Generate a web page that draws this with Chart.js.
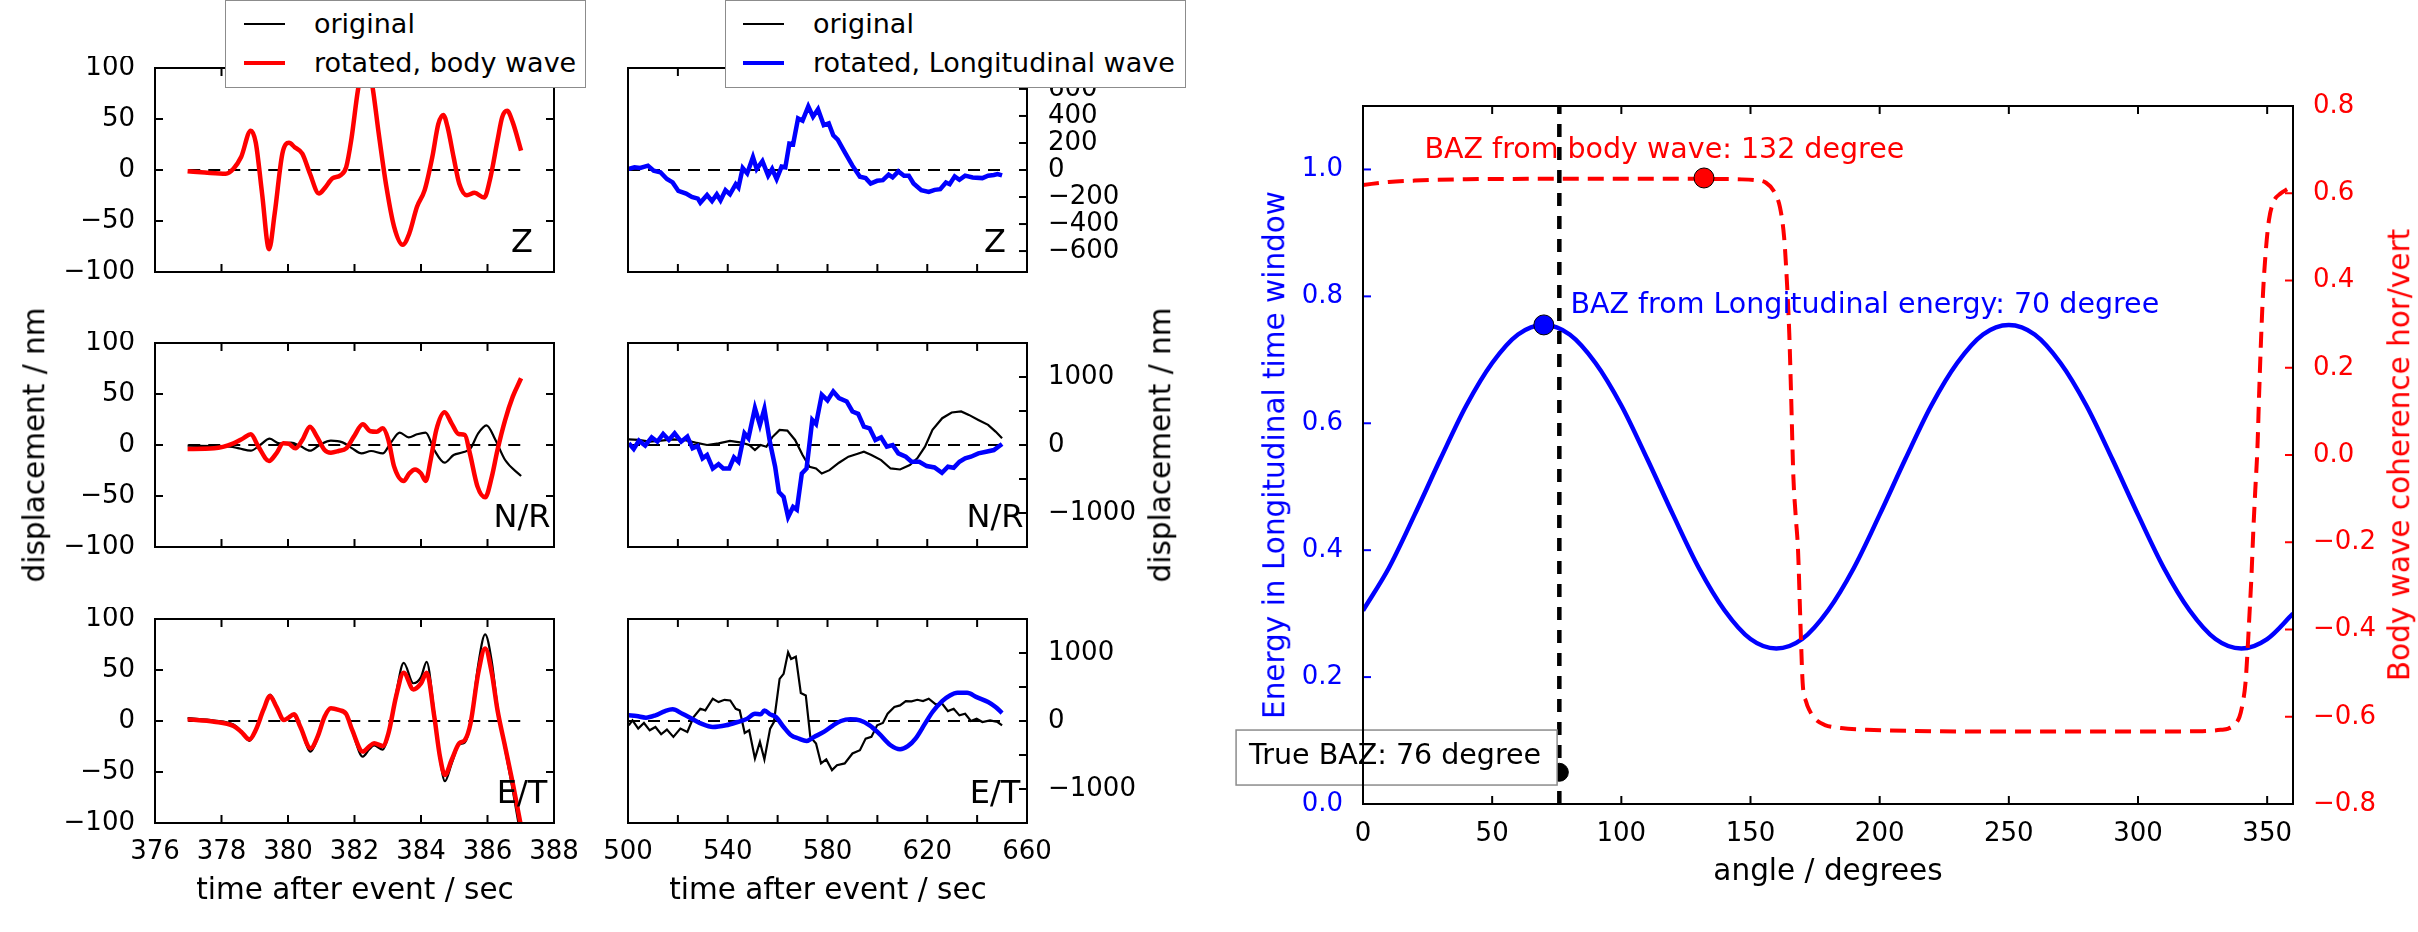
<!DOCTYPE html>
<html>
<head>
<meta charset="utf-8">
<script src="https://cdn.jsdelivr.net/npm/chart.js@4.4.0/dist/chart.umd.min.js"></script>
<style>
body { margin: 0; background: #fff; }
#fig { position: relative; width: 2418px; height: 932px; font-family: "DejaVu Sans"; overflow: hidden; }
canvas { position: absolute; }
.t { position: absolute; font-size: 29.5px; line-height: 1; white-space: nowrap; transform: translate(-50%, -50%); }
.rot { transform: translate(-50%, -50%) rotate(-90deg); }
.legend { position: absolute; box-sizing: border-box; background: #fff; border: 1.5px solid #8c8c8c; }
.lline { position: absolute; width: 41px; height: 0; }
.ltext { position: absolute; font-size: 27px; line-height: 1; white-space: nowrap; transform: translateY(-50%); }
</style>
</head>
<body>
<div id="fig">
  <canvas id="lz" width="546" height="228" style="left:40px;top:56px"></canvas>
  <canvas id="ln" width="546" height="228" style="left:40px;top:331px"></canvas>
  <canvas id="le" width="546" height="266" style="left:40px;top:607px"></canvas>
  <canvas id="mz" width="550" height="228" style="left:600px;top:56px"></canvas>
  <canvas id="mn" width="550" height="228" style="left:600px;top:331px"></canvas>
  <canvas id="me" width="550" height="266" style="left:600px;top:607px"></canvas>
  <canvas id="baz" width="1180" height="774" style="left:1220px;top:80px"></canvas>

  <div class="t rot" style="left:35px;top:445px">displacement / nm</div>
  <div class="t rot" style="left:1161px;top:445px">displacement / nm</div>
  <div class="t" style="left:355px;top:890px">time after event / sec</div>
  <div class="t" style="left:828px;top:890px">time after event / sec</div>
  <div class="t" style="left:1828px;top:871px">angle / degrees</div>
  <div class="t rot" style="left:1275px;top:455px;color:blue">Energy in Longitudinal time window</div>
  <div class="t rot" style="left:2400px;top:455px;color:red">Body wave coherence hor/vert</div>

  <div class="legend" style="left:225px;top:0px;width:361px;height:88px">
    <div class="lline" style="left:18px;top:22px;border-top:2px solid #000"></div>
    <div class="ltext" style="left:88px;top:22px">original</div>
    <div class="lline" style="left:18px;top:60px;border-top:4px solid red"></div>
    <div class="ltext" style="left:88px;top:61px">rotated, body wave</div>
  </div>
  <div class="legend" style="left:725px;top:0px;width:461px;height:88px">
    <div class="lline" style="left:17px;top:22px;border-top:2px solid #000"></div>
    <div class="ltext" style="left:87px;top:22px">original</div>
    <div class="lline" style="left:17px;top:60px;border-top:4px solid blue"></div>
    <div class="ltext" style="left:87px;top:61px">rotated, Longitudinal wave</div>
  </div>
</div>

<script>
// ticks
var leftTimeTicks = [376, 378, 380, 382, 384, 386, 388];
var leftDispTicks = [-100, -50, 0, 50, 100];
var midTimeTicks = [500, 520, 540, 560, 580, 600, 620, 640, 660];
var midZTicks = [-600, -400, -200, 0, 200, 400, 600];
var midHTicks = [-1000, -500, 0, 500, 1000];
var angleTicks = [0, 50, 100, 150, 200, 250, 300, 350];
var energyTicks = [0, 0.2, 0.4, 0.6, 0.8, 1.0];
var cohTicks = [-0.8, -0.6, -0.4, -0.2, 0, 0.2, 0.4, 0.6, 0.8];

var zeroLeft = [377, 387];
var zeroMid = [500, 650];

// left column, body wave rotation (nm)
var zT = [376.98, 377.5, 378.13, 378.36, 378.59, 378.88, 379.03, 379.22, 379.43, 379.6, 379.83, 380.03, 380.2, 380.43, 380.66, 380.93, 381.1, 381.33, 381.58, 381.75, 381.9, 382.1, 382.22, 382.33, 382.45, 382.56, 382.73, 382.96, 383.19, 383.45, 383.65, 383.88, 384.11, 384.34, 384.52, 384.67, 384.8, 384.98, 385.15, 385.38, 385.61, 385.9, 386.07, 386.3, 386.44, 386.59, 386.76, 387.01];
var zBody = [-1.3, -2.5, -3.6, 1.3, 12.7, 38.6, 27, -23, -77.6, -42.5, 16, 26.6, 22.4, 16, -3.6, -23, -18, -8.4, -5.2, 2.9, 28.9, 77.6, 98, 105, 98, 77.6, 35.4, -16.6, -55.5, -73.4, -62, -36, -19.8, 12.7, 45, 54, 42, 12.7, -13.3, -24.7, -22.4, -27, -10, 28.9, 51.6, 58, 46.7, 19];

var nrBodyT = [376.98, 377.78, 378.36, 378.65, 378.88, 379.11, 379.43, 379.65, 379.86, 380.03, 380.22, 380.43, 380.66, 380.87, 381.1, 381.29, 381.52, 381.75, 381.98, 382.25, 382.48, 382.67, 382.85, 383.02, 383.19, 383.48, 383.65, 383.82, 384.0, 384.14, 384.29, 384.46, 384.71, 384.92, 385.13, 385.32, 385.47, 385.7, 385.93, 386.13, 386.3, 386.53, 386.76, 387.01];
var nrBody = [-3.9, -3.3, 1.6, 6.5, 10.5, -1.6, -15.7, -8.2, 1.6, 1, -3.3, 4.9, 18, 8.2, -4.9, -7.5, -5.9, -3.3, 8.2, 20.3, 13.5, 13, 16.3, 4.9, -21, -35.3, -27.8, -23.9, -27.8, -35.3, -14.7, 14.7, 32, 21.2, 10.8, 9.8, -8.2, -40.8, -51.3, -31, -4.9, 24.5, 47.4, 65.4];
var nrOrigT = [376.98, 378.25, 378.53, 378.88, 379.16, 379.45, 379.74, 380.09, 380.37, 380.66, 380.95, 381.29, 381.64, 381.93, 382.21, 382.5, 382.85, 383.08, 383.36, 383.63, 383.88, 384.14, 384.4, 384.71, 384.98, 385.26, 385.49, 385.72, 385.97, 386.24, 386.53, 387.01];
var nrOrig = [-0.7, -1.6, -3.3, -5.6, 0, 6.2, 1.6, 2.3, -1, -5.6, 0, 4.2, 2.6, -3.3, -8.2, -5.9, -8.2, 1.6, 12.1, 7.5, 10.5, 12.1, -4.9, -17.3, -9.8, -7.2, -3.3, 11.4, 19.3, 4.9, -14.7, -30.4];

var etT = [376.98, 377.78, 378.36, 378.59, 378.84, 379.03, 379.26, 379.46, 379.65, 379.88, 379.99, 380.18, 380.37, 380.68, 380.89, 381.1, 381.29, 381.52, 381.75, 381.93, 382.25, 382.44, 382.59, 382.85, 383.02, 383.25, 383.48, 383.77, 384.0, 384.17, 384.4, 384.57, 384.72, 384.92, 385.15, 385.32, 385.49, 385.72, 385.93, 386.13, 386.3, 386.53, 386.76, 387.01];
var etBody = [1.6, -0.7, -4.9, -10.5, -18, -8.8, 10.8, 24.5, 14, 1, 2.6, 6.5, -5.6, -26.8, -15.4, 4.2, 12.4, 10.8, 6.9, -8.8, -30, -25, -21.9, -24.5, -12.1, 23.9, 47.4, 31, 36.9, 47.4, 4.2, -35, -53, -38.2, -21.9, -18.6, -2.3, 46.7, 71.2, 46.7, 10.8, -25.2, -61.1, -103.6];
var etOrig = [2.9, 0.5, -3.5, -10, -19.5, -9.5, 11, 26, 15, 0, 2, 6, -6, -30, -17, 4, 12.5, 10.5, 6, -10, -35, -28, -24, -28, -14, 27, 57, 37, 43, 58, 8, -37, -59, -42, -23, -21, -2, 55, 85, 58, 14, -28, -68, -115];

// middle column, longitudinal rotation (nm)
var mzT = [500, 502.6, 504.9, 508, 510.3, 513, 515.6, 517.9, 520.2, 523.3, 525.6, 528, 529, 531.7, 533.7, 535.6, 537.1, 539.1, 540.9, 543.2, 544.3, 546, 547.8, 550.1, 551.6, 553.9, 556.2, 557.8, 559.6, 561.6, 563.1, 564.7, 566.2, 568.2, 570, 572.3, 574.2, 576.2, 578.5, 580.5, 582.3, 584.1, 586.9, 590, 593, 595.3, 597.3, 599.9, 602.2, 604.5, 606.1, 608.4, 610.7, 612.6, 614.5, 617.6, 620.6, 623, 625.2, 627.5, 629, 631, 632.9, 635.2, 638.2, 642.1, 644.4, 646.7, 648.2, 650];
var mzLong = [7.5, 20, 15, 32, -5, -17, -67, -92, -155, -175, -200, -212, -242, -185, -230, -180, -225, -150, -180, -105, -130, 15, -25, 95, 7.5, 65, -42, 7.5, -67, 25, 20, 195, 190, 382, 365, 470, 395, 450, 332, 345, 257, 225, 132, 32, -50, -60, -100, -80, -75, -35, -55, -10, -42, -42, -100, -150, -162, -147, -142, -92, -105, -47, -72, -42, -55, -60, -42, -37, -30, -40];

var mnLongT = [500.3, 502.3, 504.4, 506.9, 509.5, 511.8, 514.1, 516.4, 518.7, 521.3, 523.8, 525.9, 527.9, 529.9, 531.7, 534, 536.3, 538.2, 540.6, 542.5, 544.3, 546.7, 548.3, 550.9, 552.9, 554.7, 557, 559, 560.5, 562.4, 564.2, 566.2, 567.7, 569.7, 571.6, 573.9, 575.4, 577.7, 580, 582.3, 584.6, 587.7, 590, 592.3, 594.6, 596.9, 599.2, 601.5, 603.8, 606.1, 608.4, 611.4, 613.7, 616.8, 619.8, 622.9, 625.9, 628.3, 630.6, 632.9, 635.2, 637.5, 640.5, 643.6, 646.7, 650];
var mnLong = [25, -59, 64, -10, 113, 49, 163, 74, 172, 49, 123, -49, -15, -197, -148, -345, -281, -345, -345, -182, -246, 172, 99, 542, 296, 532, 25, -320, -690, -764, -1059, -911, -951, -419, -345, 369, 310, 739, 655, 788, 690, 640, 493, 458, 271, 246, 74, 113, -25, 0, -123, -172, -246, -246, -310, -330, -409, -320, -335, -246, -197, -172, -123, -99, -74, 15];
var mnOrigT = [500.3, 504.1, 508.7, 513.3, 517.9, 522.5, 527.1, 531.7, 536.3, 540.9, 545.5, 548.6, 550.9, 553.2, 555.5, 557.8, 560.8, 563.9, 567, 570, 572.8, 575.4, 577.7, 580.8, 584.6, 588.4, 591.8, 594.6, 597.6, 601.5, 605.3, 609.1, 613, 616, 619.1, 622.1, 626, 629.8, 633.6, 636.7, 640.5, 644.4, 647.4, 650];
var mnOrig = [84, 74, 49, 64, 84, 74, 34, 0, 25, 59, 34, 0, -74, 0, -25, 113, 222, 212, 74, -148, -320, -345, -419, -370, -261, -172, -133, -99, -148, -222, -345, -360, -296, -197, -25, 222, 394, 478, 493, 443, 369, 296, 197, 99];

var meLongT = [500.3, 503.4, 507.2, 511, 514.9, 517.9, 521.8, 525.6, 529.4, 534, 539.3, 543.9, 547.8, 550.9, 553.2, 554.7, 557, 559.3, 562.4, 565.4, 568.5, 571.6, 574.6, 578.5, 582.3, 585.4, 589.2, 593, 596.9, 600.7, 605.3, 609.1, 612.2, 615.3, 619.1, 622.1, 626, 629.1, 632.1, 636, 639.8, 644.4, 647.4, 650];
var meLong = [83, 73, 49, 83, 146, 171, 107, 34, -39, -88, -63, -15, 34, 107, 98, 156, 98, 59, -88, -210, -259, -293, -234, -161, -63, 0, 24, 10, -63, -185, -356, -415, -371, -259, -39, 132, 293, 376, 415, 415, 351, 278, 205, 117];
var meOrigT = [500.3, 501.8, 504.1, 506.4, 508.7, 511, 513.3, 515.6, 518.2, 521, 523.8, 526.3, 529, 531, 534, 536.3, 538.7, 541, 543.2, 544.8, 546.8, 548.6, 550.9, 552.9, 554.7, 557, 558.5, 560.8, 562.4, 564.2, 565.4, 567.3, 569.3, 571.3, 573.1, 575.4, 577.4, 579.5, 581.8, 583.8, 586.9, 590, 593, 595.3, 597.6, 599.9, 602.2, 604.1, 606.8, 609.1, 611.4, 613.7, 616, 618.3, 620.6, 623.4, 626, 628.3, 630.6, 632.9, 635.2, 637.5, 639.8, 642.1, 645.2, 648.2, 650];
var meOrig = [-63, 10, -112, -29, -137, -88, -195, -127, -234, -112, -161, 59, 180, 156, 327, 278, 312, 302, 180, 156, -176, -137, -551, -307, -566, -112, -15, 620, 693, 1010, 912, 946, 410, 376, -234, -332, -624, -566, -722, -649, -624, -478, -429, -259, -234, -63, -29, 107, 205, 229, 293, 288, 312, 293, 327, 244, 254, 146, 180, 83, 107, 0, 34, -15, 10, -15, -63];

// right panel
var angles = [0, 10, 20, 30, 40, 50, 60, 70, 80, 90, 100, 110, 120, 130, 140, 150, 160, 170, 180, 190, 200, 210, 220, 230, 240, 250, 260, 270, 280, 290, 300, 310, 320, 330, 340, 350, 360];
var energy = [0.305, 0.372, 0.456, 0.544, 0.628, 0.695, 0.740, 0.755, 0.740, 0.695, 0.628, 0.544, 0.456, 0.372, 0.305, 0.260, 0.245, 0.260, 0.305, 0.372, 0.456, 0.544, 0.628, 0.695, 0.740, 0.755, 0.740, 0.695, 0.628, 0.544, 0.456, 0.372, 0.305, 0.260, 0.245, 0.260, 0.300];
var cohAngle = [0, 10, 20, 40, 70, 100, 130, 145, 152, 156, 159, 161.4, 163, 164, 165, 165.7, 166.6, 167.5, 168.4, 169.3, 170.2, 171.5, 172.8, 175, 178.8, 185, 195, 220, 260, 300, 325, 332, 335, 337, 339.3, 340.5, 341.6, 342.4, 343.1, 343.9, 344.6, 345.4, 346.2, 346.9, 347.6, 348.4, 349.5, 350.7, 352.3, 355.3, 358];
var coherence = [0.619, 0.626, 0.629, 0.632, 0.633, 0.633, 0.633, 0.632, 0.630, 0.624, 0.605, 0.568, 0.50, 0.408, 0.28, 0.142, -0.05, -0.14, -0.218, -0.38, -0.523, -0.565, -0.585, -0.605, -0.619, -0.626, -0.630, -0.633, -0.634, -0.634, -0.633, -0.630, -0.627, -0.620, -0.600, -0.570, -0.523, -0.45, -0.371, -0.28, -0.179, -0.08, 0.011, 0.142, 0.26, 0.371, 0.47, 0.539, 0.578, 0.600, 0.61];

var bodyBaz = 132, bodyCoh = 0.635;
var longBaz = 70, longEnergy = 0.755;
var trueBaz = 76, trueMark = 0.05;
var energyMin = 0, energyMax = 1.1;

var notes = [
    { text: 'BAZ from body wave: 132 degree', x: 23.8, y: 1.029, color: 'red' },
    { text: 'BAZ from Longitudinal energy: 70 degree', x: 80.3, y: 0.786, color: 'blue' },
    { text: 'True BAZ: 76 degree', x: -44.1, y: 0.074, color: '#000', box: true }
];

Chart.defaults.font.family = 'DejaVu Sans';
Chart.defaults.color = '#000';
var tickFont = { family: 'DejaVu Sans', size: 26 };

function pts(xs, ys) {
    return xs.map(function (x, i) { return { x: x, y: ys[i] }; });
}
function minus(v) {
    return v < 0 ? '\u2212' + Math.abs(v) : '' + v;
}
function fmt1(v) {
    var s = Math.abs(v).toFixed(1);
    return v < -1e-9 ? '\u2212' + s : s;
}
function setTicks(list) {
    return function (scale) { scale.ticks = list.map(function (v) { return { value: v }; }); };
}
// fixed axis box size, and no extra room for labels hanging over the ends
function fixSize(size) {
    return function (s) {
        if (s.isHorizontal()) { s.height = size; } else { s.width = size; }
        s.paddingTop = 0;
        s.paddingBottom = 0;
        s.paddingLeft = 0;
        s.paddingRight = 0;
    };
}
function trace(xs, ys, color, width, smooth) {
    return {
        data: pts(xs, ys), borderColor: color, borderWidth: width, pointRadius: 0,
        tension: 0, cubicInterpolationMode: smooth ? 'monotone' : 'default', fill: false
    };
}
function zeroLine(xs) {
    return { data: pts(xs, [0, 0]), borderColor: '#000', borderWidth: 2, borderDash: [12, 8], pointRadius: 0 };
}

// frame, inward ticks, panel tag and text notes
function makeFrame(cfg) {
    return {
        id: 'frame',
        afterDatasetsDraw: function (chart) {
            var ctx = chart.ctx;
            var a = chart.chartArea;
            ctx.save();
            (cfg.notes || []).forEach(function (n) {
                var px = chart.scales.x.getPixelForValue(n.x);
                var py = chart.scales.yE.getPixelForValue(n.y);
                ctx.font = '28.5px "DejaVu Sans"';
                ctx.textAlign = 'left';
                ctx.textBaseline = 'middle';
                if (n.box) {
                    var w = ctx.measureText(n.text).width;
                    ctx.fillStyle = '#fff';
                    ctx.strokeStyle = '#8c8c8c';
                    ctx.lineWidth = 1.5;
                    ctx.fillRect(px - 13, py - 27, w + 29, 55);
                    ctx.strokeRect(px - 13, py - 27, w + 29, 55);
                }
                ctx.fillStyle = n.color;
                ctx.fillText(n.text, px, py);
            });
            if (cfg.tag) {
                ctx.font = '32px "DejaVu Sans"';
                ctx.fillStyle = '#000';
                ctx.textAlign = 'center';
                ctx.textBaseline = 'alphabetic';
                ctx.fillText(cfg.tag, a.left + 0.92 * (a.right - a.left), a.bottom - 0.1 * (a.bottom - a.top));
            }
            ctx.lineWidth = 2;
            cfg.sides.forEach(function (s) {
                var sc = chart.scales[s.scale];
                ctx.strokeStyle = s.color || '#000';
                sc.ticks.forEach(function (t) {
                    var p = sc.getPixelForValue(t.value);
                    ctx.beginPath();
                    if (s.side === 'bottom') { ctx.moveTo(p, a.bottom); ctx.lineTo(p, a.bottom - 8); }
                    else if (s.side === 'top') { ctx.moveTo(p, a.top); ctx.lineTo(p, a.top + 8); }
                    else if (s.side === 'left') { ctx.moveTo(a.left, p); ctx.lineTo(a.left + 8, p); }
                    else { ctx.moveTo(a.right, p); ctx.lineTo(a.right - 8, p); }
                    ctx.stroke();
                });
            });
            ctx.strokeStyle = '#000';
            ctx.strokeRect(a.left, a.top, a.right - a.left, a.bottom - a.top);
            ctx.restore();
        }
    };
}

function seisPanel(id, datasets, p) {
    var onLeft = p.yPos === 'left';
    return new Chart(document.getElementById(id), {
        type: 'line',
        data: { datasets: datasets },
        options: {
            responsive: false,
            animation: false,
            events: [],
            layout: { padding: onLeft ? { top: 12, right: 32 } : { top: 12, left: 28 } },
            plugins: { legend: { display: false }, tooltip: { enabled: false } },
            scales: {
                x: {
                    type: 'linear', min: p.xMin, max: p.xMax,
                    afterBuildTicks: setTicks(p.xTicks),
                    afterFit: fixSize(p.showX ? 50 : 12),
                    grid: { display: false, drawTicks: false },
                    border: { display: false },
                    ticks: {
                        display: p.showX, padding: 14, font: tickFont, color: '#000',
                        autoSkip: false, maxRotation: 0, minRotation: 0, callback: p.xFmt
                    }
                },
                y: {
                    type: 'linear', position: p.yPos, min: p.yMin, max: p.yMax,
                    afterBuildTicks: setTicks(p.yTicks),
                    afterFit: fixSize(onLeft ? 115 : 123),
                    grid: { display: false, drawTicks: false },
                    border: { display: false },
                    ticks: { padding: onLeft ? 20 : 21, font: tickFont, color: '#000', autoSkip: false, callback: p.yFmt }
                }
            }
        },
        plugins: [makeFrame({ sides: p.sides, tag: p.tag })]
    });
}

var leftSides = [
    { scale: 'x', side: 'bottom' }, { scale: 'x', side: 'top' },
    { scale: 'y', side: 'left' }, { scale: 'y', side: 'right' }
];
var midSides = [
    { scale: 'x', side: 'bottom' }, { scale: 'x', side: 'top' },
    { scale: 'y', side: 'right' }
];
var leftFmtX = function (v) { return '' + v; };
var midFmtX = function (v) { return (v - 500) % 40 === 0 ? '' + v : ''; };
var midFmtH = function (v) { return v % 1000 === 0 ? minus(v) : ''; };

function leftOpts(showX, tag) {
    return {
        yPos: 'left', xMin: 376, xMax: 388, yMin: -100, yMax: 100,
        xTicks: leftTimeTicks, yTicks: leftDispTicks, showX: showX,
        xFmt: leftFmtX, yFmt: minus, sides: leftSides, tag: tag
    };
}
function midOpts(showX, tag, yMin, yMax, yTicks, yFmt) {
    return {
        yPos: 'right', xMin: 500, xMax: 660, yMin: yMin, yMax: yMax,
        xTicks: midTimeTicks, yTicks: yTicks, showX: showX,
        xFmt: midFmtX, yFmt: yFmt, sides: midSides, tag: tag
    };
}

seisPanel('lz', [trace(zT, zBody, 'red', 4.5, true), zeroLine(zeroLeft)], leftOpts(false, 'Z'));
seisPanel('ln', [trace(nrBodyT, nrBody, 'red', 4.5, true), trace(nrOrigT, nrOrig, '#000', 2.2, true), zeroLine(zeroLeft)], leftOpts(false, 'N/R'));
seisPanel('le', [trace(etT, etBody, 'red', 4.5, true), trace(etT, etOrig, '#000', 2.2, true), zeroLine(zeroLeft)], leftOpts(true, 'E/T'));

seisPanel('mz', [trace(mzT, mzLong, 'blue', 4.5, false), zeroLine(zeroMid)], midOpts(false, 'Z', -755, 755, midZTicks, minus));
seisPanel('mn', [trace(mnLongT, mnLong, 'blue', 4.5, false), trace(mnOrigT, mnOrig, '#000', 2.2, false), zeroLine(zeroMid)], midOpts(false, 'N/R', -1500, 1500, midHTicks, midFmtH));
seisPanel('me', [trace(meLongT, meLong, 'blue', 4.5, true), trace(meOrigT, meOrig, '#000', 2.2, false), zeroLine(zeroMid)], midOpts(true, 'E/T', -1500, 1500, midHTicks, midFmtH));

new Chart(document.getElementById('baz'), {
    type: 'line',
    data: {
        datasets: [
            { data: [{ x: bodyBaz, y: bodyCoh }], yAxisID: 'yC', showLine: false, pointRadius: 10, pointBackgroundColor: 'red', pointBorderColor: '#000', pointBorderWidth: 1 },
            { data: pts(cohAngle, coherence), yAxisID: 'yC', borderColor: 'red', borderWidth: 4, borderDash: [16, 9], pointRadius: 0, cubicInterpolationMode: 'monotone' },
            { data: pts([trueBaz, trueBaz], [energyMin, energyMax]), yAxisID: 'yE', borderColor: '#000', borderWidth: 4.5, borderDash: [13, 10], pointRadius: 0 },
            { data: [{ x: trueBaz, y: trueMark }], yAxisID: 'yE', showLine: false, pointRadius: 9, pointBackgroundColor: '#000', pointBorderColor: '#000' },
            { data: [{ x: longBaz, y: longEnergy }], yAxisID: 'yE', showLine: false, pointRadius: 10, pointBackgroundColor: 'blue', pointBorderColor: '#000', pointBorderWidth: 1 },
            { data: pts(angles, energy), yAxisID: 'yE', borderColor: 'blue', borderWidth: 4.5, pointRadius: 0, cubicInterpolationMode: 'monotone' }
        ]
    },
    options: {
        responsive: false,
        animation: false,
        events: [],
        layout: { padding: { top: 26 } },
        plugins: { legend: { display: false }, tooltip: { enabled: false } },
        scales: {
            x: {
                type: 'linear', min: 0, max: 360,
                afterBuildTicks: setTicks(angleTicks),
                afterFit: fixSize(50),
                grid: { display: false, drawTicks: false },
                border: { display: false },
                ticks: { padding: 15, font: tickFont, color: '#000', autoSkip: false, maxRotation: 0, minRotation: 0, callback: function (v) { return '' + v; } }
            },
            yE: {
                type: 'linear', position: 'left', min: energyMin, max: energyMax,
                afterBuildTicks: setTicks(energyTicks),
                afterFit: fixSize(143),
                grid: { display: false, drawTicks: false },
                border: { display: false },
                ticks: { padding: 20, font: tickFont, color: 'blue', autoSkip: false, callback: fmt1 }
            },
            yC: {
                type: 'linear', position: 'right', min: -0.8, max: 0.8,
                afterBuildTicks: setTicks(cohTicks),
                afterFit: fixSize(107),
                grid: { display: false, drawTicks: false },
                border: { display: false },
                ticks: { padding: 20, font: tickFont, color: 'red', autoSkip: false, callback: fmt1 }
            }
        }
    },
    plugins: [makeFrame({
        notes: notes,
        sides: [
            { scale: 'x', side: 'bottom' }, { scale: 'x', side: 'top' },
            { scale: 'yE', side: 'left', color: 'blue' }, { scale: 'yC', side: 'right', color: 'red' }
        ]
    })]
});
</script>
</body>
</html>
